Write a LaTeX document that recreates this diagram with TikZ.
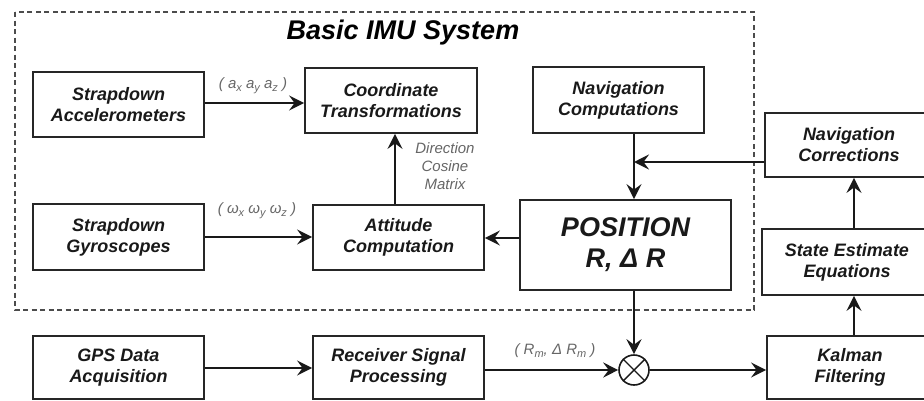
\documentclass[tikz,border=0pt]{standalone}
\usepackage{fontspec}
\setmainfont{Liberation Sans}
\usetikzlibrary{arrows.meta}
\newcommand{\lsub}[1]{\raisebox{-0.35ex}{\fontsize{11}{11}\selectfont #1}}
\begin{document}
\begin{tikzpicture}[x=1pt,y=-1pt,
  blk/.style={draw=black!85, line width=1.8pt, align=center, inner sep=0pt,
    font=\fontsize{18}{21}\selectfont\bfseries\itshape, text=black!90},
  arr/.style={line width=2.4pt, draw=black!90,
    -{Stealth[length=15pt,width=15pt,inset=5.5pt]}},
  lbl/.style={text=black!60, font=\fontsize{15}{18}\selectfont\itshape, align=center, inner sep=0pt}]
\useasboundingbox (0,0) rectangle (924,400);
\clip (0,0) rectangle (924,400);
% dashed frame
\draw[black!70, line width=1.8pt, dash pattern=on 5pt off 3.5pt] (15,12) rectangle (754,310);
\node[font=\fontsize{27}{30}\selectfont\bfseries\itshape] (title) at (403,33) {Basic IMU System};
% blocks
\node[blk, minimum width=171pt, minimum height=65pt] (acc) at (118.5,104.5) {Strapdown\\Accelerometers};
\node[blk, minimum width=172pt, minimum height=65pt] (coord) at (391,100.5) {Coordinate\\Transformations};
\node[blk, minimum width=171pt, minimum height=66pt] (navc) at (618.5,100) {Navigation\\Computations};
\node[blk, minimum width=168pt, minimum height=64pt] (corr) at (849,145) {Navigation\\Corrections};
\node[blk, minimum width=171pt, minimum height=66pt] (gyro) at (118.5,237) {Strapdown\\Gyroscopes};
\node[blk, minimum width=171pt, minimum height=65pt] (att) at (398.5,237.5) {Attitude\\Computation};
\node[blk, minimum width=211pt, minimum height=90pt, font=\fontsize{27}{31}\selectfont\bfseries\itshape] (pos) at (625.5,245) {POSITION\\R, Δ R};
\node[blk, minimum width=170pt, minimum height=66pt] (est) at (847,262) {State Estimate\\Equations};
\node[blk, minimum width=171pt, minimum height=63pt] (gps) at (118.5,367.5) {GPS Data\\Acquisition};
\node[blk, minimum width=171pt, minimum height=63pt] (recv) at (398.5,367.5) {Receiver Signal\\Processing};
\node[blk, minimum width=166pt, minimum height=63pt] (kal) at (850,367.5) {Kalman\\Filtering};
% summing junction
\node[draw=black!90, line width=1.6pt, circle, minimum size=30pt, inner sep=0pt] (sum) at (634,370) {};
\draw[black!90, line width=1.4pt] (sum.north west) -- (sum.south east) (sum.north east) -- (sum.south west);
% connectors
\coordinate (vx) at (634,0);
\coordinate (ux) at (395,0);
\coordinate (rx) at (854,0);
\draw[arr] (acc.east |- 0,103) -- (coord.west |- 0,103);
\draw[arr] (gyro.east |- 0,237) -- (att.west |- 0,237);
\draw[arr] (pos.west |- 0,238) -- (att.east |- 0,238);
\draw[arr] (att.north -| ux) -- (coord.south -| ux);
\draw[arr] (navc.south -| vx) -- (pos.north -| vx);
\coordinate (join) at (vx |- 0,162);
\draw[arr] (corr.west |- join) -- (join);
\draw[arr] (pos.south -| vx) -- (sum.north);
\draw[arr] (gps.east |- 0,368) -- (recv.west |- 0,368);
\draw[arr] (recv.east |- sum.west) -- (sum.west);
\draw[arr] (sum.east) -- (kal.west |- sum.east);
\draw[arr] (kal.north -| rx) -- (est.south -| rx);
\draw[arr] (est.north -| rx) -- (corr.south -| rx);
% labels
\node[lbl] (la) at (253,86) {( a\lsub{x} a\lsub{y} a\lsub{z} )};
\node[lbl] (lw) at (257,211) {( ω\lsub{x} ω\lsub{y} ω\lsub{z} )};
\node[lbl] (lr) at (555,351) {( R\lsub{m}, Δ R\lsub{m} )};
\node[lbl] (ld) at (445,166) {Direction\\Cosine\\Matrix};
\end{tikzpicture}
\end{document}
